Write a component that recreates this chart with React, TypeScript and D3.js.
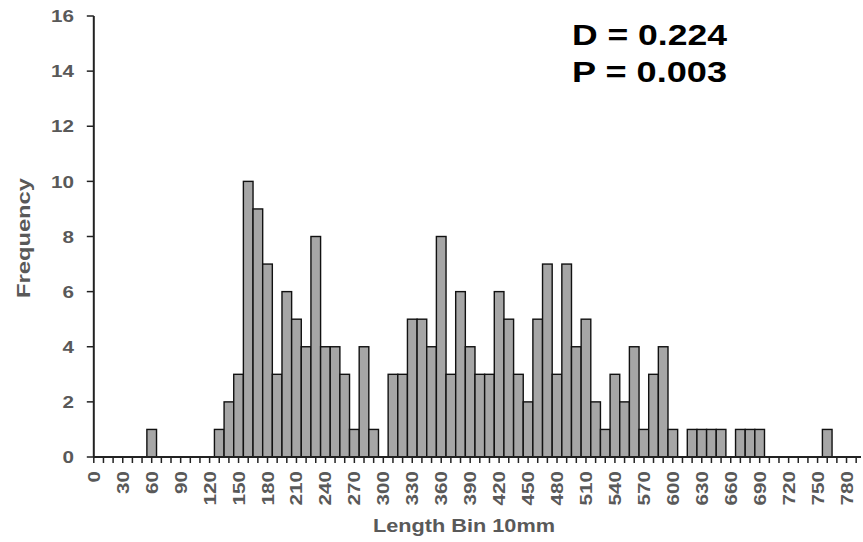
import React from "react";
import * as d3 from "d3";

const binStarts: number[] = [
  0, 10, 20, 30, 40, 50, 60, 70, 80, 90,
  100, 110, 120, 130, 140, 150, 160, 170, 180, 190,
  200, 210, 220, 230, 240, 250, 260, 270, 280, 290,
  300, 310, 320, 330, 340, 350, 360, 370, 380, 390,
  400, 410, 420, 430, 440, 450, 460, 470, 480, 490,
  500, 510, 520, 530, 540, 550, 560, 570, 580, 590,
  600, 610, 620, 630, 640, 650, 660, 670, 680, 690,
  700, 710, 720, 730, 740, 750, 760, 770, 780, 790,
];

const frequencies: number[] = [
  0, 0, 0, 0, 0, 0, 1, 0, 0, 0,
  0, 0, 0, 1, 2, 3, 10, 9, 7, 3,
  6, 5, 4, 8, 4, 4, 3, 1, 4, 1,
  0, 3, 3, 5, 5, 4, 8, 3, 6, 4,
  3, 3, 6, 5, 3, 2, 5, 7, 3, 7,
  4, 5, 2, 1, 3, 2, 4, 1, 3, 4,
  1, 0, 1, 1, 1, 1, 0, 1, 1, 1,
  0, 0, 0, 0, 0, 0, 1, 0, 0, 0,
];

const xTickLabels: number[] = [
  0, 30, 60, 90, 120, 150, 180, 210, 240, 270, 300, 330, 360, 390,
  420, 450, 480, 510, 540, 570, 600, 630, 660, 690, 720, 750, 780,
];

const yTicks: number[] = [0, 2, 4, 6, 8, 10, 12, 14, 16];

const statLines: string[] = ["D = 0.224", "P = 0.003"];

const W = 863;
const H = 542;
const FONT = "'Liberation Sans', Arial, Helvetica, sans-serif";
const GRAY = "#595959";

export default function App() {
  const x = d3.scaleLinear().domain([0, 795]).range([93.8, 861]);
  const y = d3.scaleLinear().domain([0, 16]).range([457, 16]);
  const binW = x(10) - x(0);

  return (
    <svg
      width={W}
      height={H}
      style={{ position: "absolute", left: 0, top: 0, background: "#fff" }}
      fontFamily={FONT}
    >
      <rect x={0} y={0} width={W} height={H} fill="#fff" />
      {binStarts.map((b, i) =>
        frequencies[i] > 0 ? (
          <rect
            key={b}
            x={x(b) - binW / 2}
            y={y(frequencies[i])}
            width={binW}
            height={y(0) - y(frequencies[i])}
            fill="#a6a6a6"
            stroke="#111"
            strokeWidth={1.4}
          />
        ) : null
      )}
      <line x1={x(0)} x2={x(0)} y1={y(16)} y2={y(0)} stroke="#222" strokeWidth={2} />
      {yTicks.map((t) => (
        <g key={t}>
          <line x1={x(0) - 7} x2={x(0)} y1={y(t)} y2={y(t)} stroke="#222" strokeWidth={1.5} />
          <text
            transform={`translate(74, ${y(t) + 6.2}) scale(1.25,1)`}
            textAnchor="end"
            fontSize={16.5}
            fontWeight="bold"
            fill={GRAY}
          >
            {t}
          </text>
        </g>
      ))}
      <line x1={x(0)} x2={861} y1={y(0)} y2={y(0)} stroke="#222" strokeWidth={2} />
      {binStarts.map((b) => (
        <line key={b} x1={x(b)} x2={x(b)} y1={y(0)} y2={y(0) + 6} stroke="#222" strokeWidth={1.5} />
      ))}
      {xTickLabels.map((t) => (
        <text
          key={t}
          transform={`translate(${x(t) + 6}, 471) rotate(-90) scale(1.25,1)`}
          textAnchor="end"
          fontSize={16.5}
          fontWeight="bold"
          fill={GRAY}
        >
          {t}
        </text>
      ))}
      <text
        transform="translate(30, 238) rotate(-90)"
        textAnchor="middle"
        fontSize={18}
        fontWeight="bold"
        fill={GRAY}
        textLength={120}
        lengthAdjust="spacingAndGlyphs"
      >
        Frequency
      </text>
      <text
        x={373}
        y={532}
        fontSize={18}
        fontWeight="bold"
        fill={GRAY}
        textLength={182}
        lengthAdjust="spacingAndGlyphs"
      >
        Length Bin 10mm
      </text>
      {statLines.map((s, i) => (
        <text
          key={s}
          x={572}
          y={45 + i * 36.7}
          fontSize={30}
          fontWeight="bold"
          fill="#000"
          textLength={155}
          lengthAdjust="spacingAndGlyphs"
        >
          {s}
        </text>
      ))}
    </svg>
  );
}
